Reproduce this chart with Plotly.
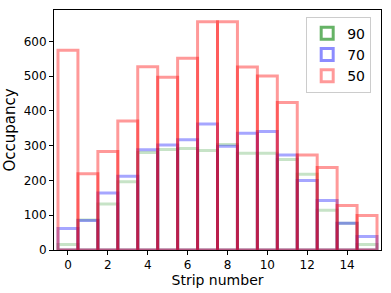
import plotly.graph_objects as go

strips = list(range(16))
occ_90 = [16, 86, 132, 196, 280, 289, 292, 286, 303, 278, 278, 260, 218, 114, 77, 16]
occ_70 = [62, 85, 164, 212, 288, 302, 317, 362, 298, 336, 341, 273, 200, 142, 77, 39]
occ_50 = [574, 219, 283, 371, 527, 497, 551, 656, 656, 526, 500, 424, 273, 237, 128, 99]

series = [
    ("90", occ_90, "rgba(0,128,0,0.22)", "rgba(0,128,0,0.6)"),
    ("70", occ_70, "rgba(0,0,255,0.35)", "rgba(0,0,255,0.45)"),
    ("50", occ_50, "rgba(255,0,0,0.4)", "rgba(255,0,0,0.4)"),
]

fig = go.Figure()
for name, vals, col, _ in series:
    fig.add_trace(go.Bar(
        x=strips, y=vals, width=1, name=name, showlegend=False,
        marker=dict(color="rgba(0,0,0,0)", line=dict(color=col, width=3)),
    ))
for name, vals, _, lcol in series:
    fig.add_trace(go.Bar(
        x=[None], y=[None], name=name,
        marker=dict(color="rgba(255,255,255,0)", line=dict(color=lcol, width=3)),
    ))

fig.update_layout(
    width=391, height=293,
    margin=dict(l=53, r=9, t=9, b=43),
    barmode="overlay",
    plot_bgcolor="white", paper_bgcolor="white",
    font=dict(family="DejaVu Sans", size=12, color="black"),
    legend=dict(
        x=0.97, y=0.972, xanchor="right", yanchor="top",
        bgcolor="white", bordercolor="#cccccc", borderwidth=1,
        font=dict(size=14), itemwidth=30,
    ),
    xaxis=dict(
        range=[-0.7, 15.7], tickvals=list(range(0, 16, 2)),
        showgrid=False, zeroline=False, showline=True, linecolor="black",
        linewidth=1, mirror=True, ticks="outside", ticklen=4, tickcolor="black",
        title=dict(text="Strip number", font=dict(size=14), standoff=2),
    ),
    yaxis=dict(
        range=[0, 690], tickvals=list(range(0, 700, 100)),
        showgrid=False, zeroline=False, showline=True, linecolor="black",
        linewidth=1, mirror=True, ticks="outside", ticklen=4, tickcolor="black",
        title=dict(text="Occupancy", font=dict(size=15), standoff=4),
    ),
)

fig.write_html("out.html", config={"displayModeBar": False},
               post_script="document.body.style.margin='0';")
